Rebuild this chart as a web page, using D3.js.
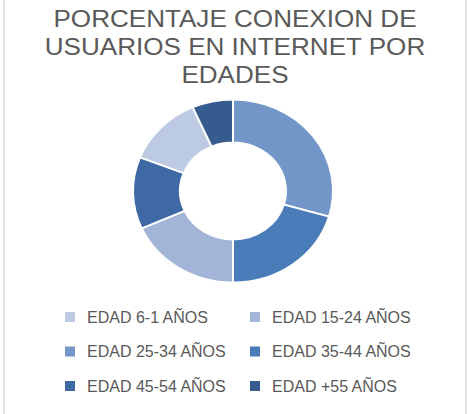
<!DOCTYPE html>
<html>
<head>
<meta charset="utf-8">
<script src="https://cdn.jsdelivr.net/npm/d3@7"></script>
<style>
  body { margin: 0; background: #fff; }
  svg { display: block; }
</style>
</head>
<body>
<div id="chart"></div>
<script>
var titleLines = ["PORCENTAJE CONEXION DE", "USUARIOS EN INTERNET POR", "EDADES"];

// legend order
var categories = ["EDAD 6-1 AÑOS", "EDAD 15-24 AÑOS", "EDAD 25-34 AÑOS",
                  "EDAD 35-44 AÑOS", "EDAD 45-54 AÑOS", "EDAD +55 AÑOS"];
var values = [12.4, 18.3, 29.5, 20.5, 12.7, 6.6];
var colors = ["#bccae3", "#a2b4d8", "#7396c9", "#4a7cba", "#3e69a5", "#365b8e"];

// order the slices appear clockwise from 12 o'clock
var sliceOrder = ["EDAD 25-34 AÑOS", "EDAD 35-44 AÑOS", "EDAD 15-24 AÑOS",
                  "EDAD 45-54 AÑOS", "EDAD 6-1 AÑOS", "EDAD +55 AÑOS"];

var draw = function() {
    var width = 470;
    var height = 414;

    var svg = d3.select("#chart").append("svg")
        .attr("width", width)
        .attr("height", height);

    // chart area side borders
    svg.append("g")
        .attr("stroke", "#d9d9d9")
        .attr("stroke-width", 1.5)
        .selectAll("line")
        .data([4, 466])
        .join("line")
            .attr("x1", d => d)
            .attr("x2", d => d)
            .attr("y1", 0)
            .attr("y2", height);

    // the picture is a bit wider than tall, so stretch the title too
    svg.append("g")
        .attr("transform", "translate(235,0) scale(1.087,1)")
        .attr("fill", "#595959")
        .attr("font-family", "Liberation Sans, Arial, sans-serif")
        .attr("font-size", 24)
        .attr("text-anchor", "middle")
        .selectAll("text")
        .data(titleLines)
        .join("text")
            .attr("x", 0)
            .attr("y", (d, i) => 27 + i * 28)
            .text(d => d);

    var color = d3.scaleOrdinal().domain(categories).range(colors);
    var valueOf = d3.scaleOrdinal().domain(categories).range(values);

    var pie = d3.pie().sort(null).value(d => valueOf(d));
    var arc = d3.arc().innerRadius(53).outerRadius(100);

    var g = svg.append("g")
        .attr("transform", "translate(233,191) scale(1,0.915)");

    g.selectAll("path")
        .data(pie(sliceOrder))
        .join("path")
            .attr("d", arc)
            .attr("fill", d => color(d.data))
            .attr("stroke", "#fff")
            .attr("stroke-width", 2);

    var legend = svg.append("g")
        .selectAll("g")
        .data(categories)
        .join("g")
            .attr("transform", (d, i) => "translate(" + (i % 2 ? 250 : 65) + "," + (317 + Math.floor(i / 2) * 34.5) + ")");

    legend.append("rect")
        .attr("x", 0)
        .attr("y", -5)
        .attr("width", 10)
        .attr("height", 10)
        .attr("fill", d => color(d));

    legend.append("text")
        .attr("x", 22)
        .attr("y", 5.5)
        .attr("fill", "#595959")
        .attr("font-family", "Liberation Sans, Arial, sans-serif")
        .attr("font-size", 16)
        .text(d => d);
};

draw();
</script>
</body>
</html>
